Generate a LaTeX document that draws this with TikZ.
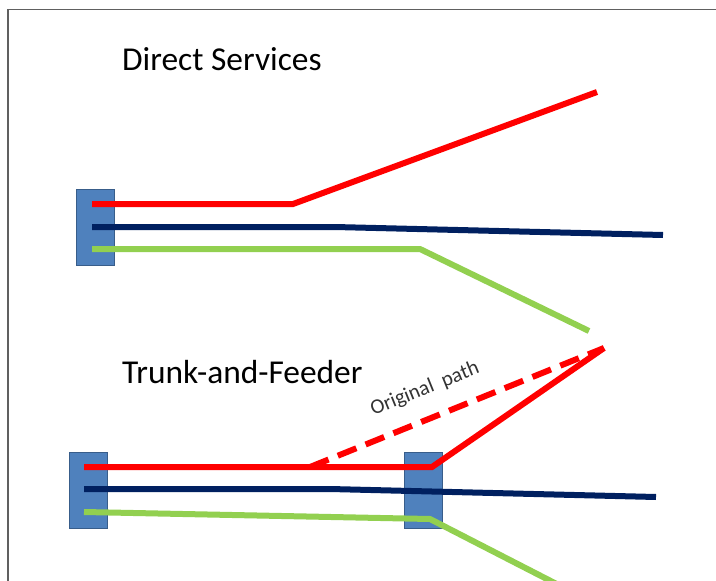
\documentclass[tikz,border=0pt]{standalone}
\usepackage{fontspec}
\setmainfont{Carlito}
\definecolor{boxfill}{HTML}{4F81BD}
\definecolor{boxline}{HTML}{385D8A}
\definecolor{navy}{HTML}{002060}
\definecolor{lgreen}{HTML}{92D050}
\definecolor{frame}{HTML}{606060}
\tikzset{
  stop/.style={rectangle, draw=boxline, fill=boxfill, line width=0.8pt, minimum width=38pt, minimum height=76pt, inner sep=0pt},
  route/.style={line width=6pt, line join=miter},
  redroute/.style={route, draw=red},
  navyroute/.style={route, draw=navy},
  greenroute/.style={route, draw=lgreen},
  title/.style={anchor=base west, font=\fontsize{33.4}{36}\selectfont, text=black, inner sep=0pt},
}
\begin{document}
\begin{tikzpicture}[x=1pt,y=-1pt]
\useasboundingbox (0,0) rectangle (716,581);
\clip (0,0) rectangle (716,581);
% frame
\draw[frame, line width=1.5pt] (8,581) -- (8,9.5) -- (716,9.5);
% titles
\node[title] (t1) at (122,70) {Direct Services};
\node[title] (t2) at (122,383) {Trunk-and-Feeder};
% boxes
\node[stop] (b1) at (95.5,227.5) {};
\node[stop] (b2) at (88.5,490) {};
\node[stop] (b3) at (423,490) {};
% top coordinates
\coordinate (r1s) at (92,204);
\coordinate (r1b) at (293,204);
\coordinate (r1e) at (597,92);
\coordinate (n1s) at (92,227);
\coordinate (n1b) at (335,227);
\coordinate (n1e) at (663,235);
\coordinate (g1s) at (92,249);
\coordinate (g1b) at (420,249);
\coordinate (g1e) at (589,331);
% bottom coordinates
\coordinate (r2s) at (84,467);
\coordinate (r2d) at (310,467);
\coordinate (r2b) at (432,467);
\coordinate (r2e) at (604,348);
\coordinate (n2s) at (84,489);
\coordinate (n2b) at (330,489);
\coordinate (n2e) at (656,497);
\coordinate (g2s) at (84,512);
\coordinate (g2b) at (430,519);
\coordinate (g2e) at (580,596);
% top routes
\draw[redroute] (r1s) -- (r1b) -- (r1e);
\draw[navyroute] (n1s) -- (n1b) -- (n1e);
\draw[greenroute] (g1s) -- (g1b) -- (g1e);
% bottom routes
\draw[redroute, dash pattern=on 20pt off 10pt] (r2d) -- (r2e);
\draw[redroute] (r2s) -- (r2b) -- (r2e);
\draw[navyroute] (n2s) -- (n2b) -- (n2e);
\draw[greenroute] (g2s) -- (g2b) -- (g2e);
% label
\node[rotate=22, font=\fontsize{21}{24}\selectfont, text=black!80, inner sep=1pt] (lab) at (425,389) {Original\ \ path};
\end{tikzpicture}
\end{document}
